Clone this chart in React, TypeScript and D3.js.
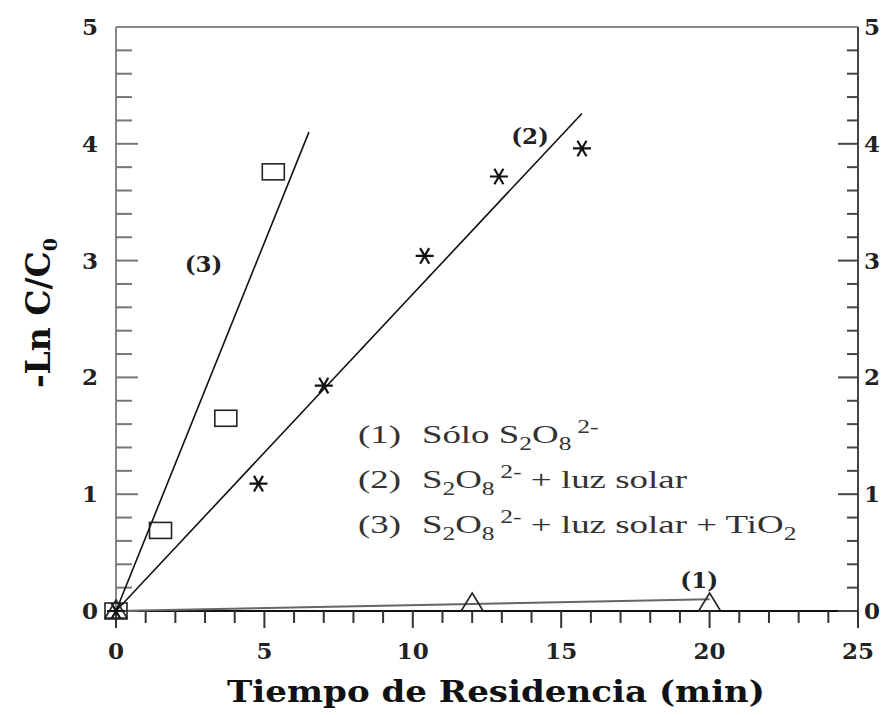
import React, { useRef, useEffect } from 'react';
import * as d3 from 'd3';

// series (1): only persulfate, triangles
const timeSolo = [0, 12, 20];
const lnSolo = [0, 0.06, 0.06];
// series (2): persulfate + sunlight, asterisks
const timeLuz = [0, 4.8, 7.0, 10.4, 12.9, 15.7];
const lnLuz = [0, 1.09, 1.93, 3.04, 3.72, 3.96];
// series (3): persulfate + sunlight + TiO2, squares
const timeTio2 = [0, 1.5, 3.7, 5.3];
const lnTio2 = [0, 0.69, 1.65, 3.76];

// fitted straight lines (start / end)
const fitSolo: [number, number][] = [[0, 0], [20, 0.1]];
const fitLuz: [number, number][] = [[0, 0], [15.7, 4.26]];
const fitTio2: [number, number][] = [[0, 0], [6.5, 4.1]];

const xTicks = [0, 5, 10, 15, 20, 25];
const yTicks = [0, 1, 2, 3, 4, 5];

const W = 891;
const H = 715;
const left = 116;
const right = 858;
const top = 27;
const bottom = 611;

const serif = '"DejaVu Serif", serif';
const times = '"Liberation Serif", "Times New Roman", serif';

const App: React.FC = () => {
	const svgRef = useRef<SVGSVGElement | null>(null);

	useEffect(() => {
		if (!svgRef.current) return;
		const svg = d3.select(svgRef.current);
		svg.selectAll('*').remove();

		const x = d3.scaleLinear().domain([0, 25]).range([left, right]);
		const y = d3.scaleLinear().domain([0, 5]).range([bottom, top]);

		// frame lines
		svg.append('line').attr('x1', left).attr('x2', right).attr('y1', top).attr('y2', top)
			.attr('stroke', '#888').attr('stroke-width', 2);
		svg.append('line').attr('x1', left).attr('x2', left).attr('y1', top).attr('y2', bottom)
			.attr('stroke', '#888').attr('stroke-width', 2);
		svg.append('line').attr('x1', right).attr('x2', right).attr('y1', top).attr('y2', bottom)
			.attr('stroke', '#444').attr('stroke-width', 2);
		svg.append('line').attr('x1', left).attr('x2', right).attr('y1', bottom).attr('y2', bottom)
			.attr('stroke', '#111').attr('stroke-width', 2);

		// y ticks (inward on both sides), minor every 0.2
		d3.range(0, 5, 0.2).forEach(v => {
			const major = Math.abs(v - Math.round(v)) < 1e-6;
			if (v > 4.999) return;
			svg.append('line')
				.attr('x1', left).attr('x2', left + (major ? 22 : 16))
				.attr('y1', y(v)).attr('y2', y(v))
				.attr('stroke', '#777').attr('stroke-width', 2);
			svg.append('line')
				.attr('x1', right).attr('x2', right - (major ? 20 : 11))
				.attr('y1', y(v)).attr('y2', y(v))
				.attr('stroke', '#444').attr('stroke-width', 2);
		});

		// x ticks (outward, below), minor every 1
		d3.range(0, 26, 1).forEach(v => {
			const major = v % 5 === 0;
			svg.append('line')
				.attr('x1', x(v)).attr('x2', x(v))
				.attr('y1', bottom).attr('y2', bottom + (major ? 17 : 12))
				.attr('stroke', '#333').attr('stroke-width', 2);
		});

		// tick labels
		const tickText = (tx: number, ty: number, s: string) => svg.append('text')
			.attr('x', tx).attr('y', ty).attr('text-anchor', 'middle')
			.attr('font-family', serif).attr('font-weight', 'bold')
			.attr('font-size', 23).attr('fill', '#222').text(s);
		yTicks.forEach(v => {
			tickText(left - 26, y(v) + 8, String(v));
			tickText(right + 14, y(v) + 8, String(v));
		});
		xTicks.forEach(v => tickText(x(v), 659, String(v)));

		// axis titles
		svg.append('text').attr('x', 496).attr('y', 702)
			.attr('text-anchor', 'middle').attr('font-family', serif).attr('font-weight', 'bold')
			.attr('font-size', 30).attr('fill', '#111')
			.attr('textLength', 538).attr('lengthAdjust', 'spacingAndGlyphs')
			.text('Tiempo de Residencia (min)');
		const yt = svg.append('text').attr('transform', 'translate(50,313) rotate(-90)')
			.attr('text-anchor', 'middle').attr('font-family', serif).attr('font-weight', 'bold')
			.attr('font-size', 33).attr('fill', '#111');
		yt.append('tspan').text('-Ln C/C');
		yt.append('tspan').attr('font-size', 19).attr('dy', 7).text('0');

		// fitted lines
		const line = d3.line<[number, number]>().x(d => x(d[0])).y(d => y(d[1]));
		svg.append('path').attr('d', line(fitSolo)).attr('fill', 'none').attr('stroke', '#666').attr('stroke-width', 2);
		svg.append('path').attr('d', line(fitLuz)).attr('fill', 'none').attr('stroke', '#111').attr('stroke-width', 1.6);
		svg.append('path').attr('d', line(fitTio2)).attr('fill', 'none').attr('stroke', '#111').attr('stroke-width', 1.6);

		// squares
		timeTio2.forEach((t, i) => {
			svg.append('rect').attr('x', x(t) - 11).attr('y', y(lnTio2[i]) - 8)
				.attr('width', 22).attr('height', 16)
				.attr('fill', 'none').attr('stroke', '#222').attr('stroke-width', 1.6);
		});

		// asterisks
		timeLuz.forEach((t, i) => {
			const cx = x(t);
			const cy = y(lnLuz[i]);
			const r = 9;
			const p = d3.path();
			[0, 60, 120].forEach(a => {
				const rad = (a * Math.PI) / 180;
				p.moveTo(cx - r * Math.cos(rad), cy - r * Math.sin(rad));
				p.lineTo(cx + r * Math.cos(rad), cy + r * Math.sin(rad));
			});
			svg.append('path').attr('d', p.toString()).attr('stroke', '#111').attr('stroke-width', 2.2).attr('fill', 'none');
		});

		// triangles
		timeSolo.forEach((t, i) => {
			const cx = x(t);
			const cy = y(lnSolo[i]);
			const tri = d3.path();
			tri.moveTo(cx, cy - 11);
			tri.lineTo(cx + 11, cy + 7);
			tri.lineTo(cx - 11, cy + 7);
			tri.closePath();
			svg.append('path').attr('d', tri.toString()).attr('fill', 'none').attr('stroke', '#222').attr('stroke-width', 1.6);
		});

		// series labels
		const tag = (tx: number, ty: number, s: string) => svg.append('text')
			.attr('x', x(tx)).attr('y', y(ty)).attr('text-anchor', 'middle')
			.attr('font-family', serif).attr('font-weight', 'bold').attr('font-size', 23)
			.attr('fill', '#222').text(s);
		tag(2.95, 2.9, '(3)');
		tag(13.95, 4.0, '(2)');
		tag(19.65, 0.2, '(1)');

		// legend (horizontally stretched like the source)
		const legendRows = [
			{ num: '(1)', pre: 'Sólo ', post: '' },
			{ num: '(2)', pre: '', post: ' + luz solar' },
			{ num: '(3)', pre: '', post: ' + luz solar + TiO' },
		];
		const legend = svg.append('g').attr('transform', 'translate(358,0) scale(1.42,1)');
		legendRows.forEach((row, i) => {
			const ty = 443 + i * 45;
			legend.append('text').attr('x', 0).attr('y', ty)
				.attr('font-family', times).attr('font-size', 26).attr('fill', '#333').text(row.num);
			const t = legend.append('text').attr('x', 45).attr('y', ty)
				.attr('font-family', times).attr('font-size', 26).attr('fill', '#333');
			t.append('tspan').text(row.pre + 'S');
			t.append('tspan').attr('font-size', 18).attr('dy', 7).text('2');
			t.append('tspan').attr('dy', -7).text('O');
			t.append('tspan').attr('font-size', 18).attr('dy', 7).text('8');
			t.append('tspan').attr('font-size', 18).attr('dy', -17).attr('dx', 4).text('2-');
			t.append('tspan').attr('dy', 10).text(row.post);
			if (i === 2) t.append('tspan').attr('font-size', 18).attr('dy', 7).text('2');
		});
	}, []);

	return (
		<svg ref={svgRef} width={W} height={H}
			style={{ position: 'absolute', left: 0, top: 0, background: '#fff' }} />
	);
};

export default App;
